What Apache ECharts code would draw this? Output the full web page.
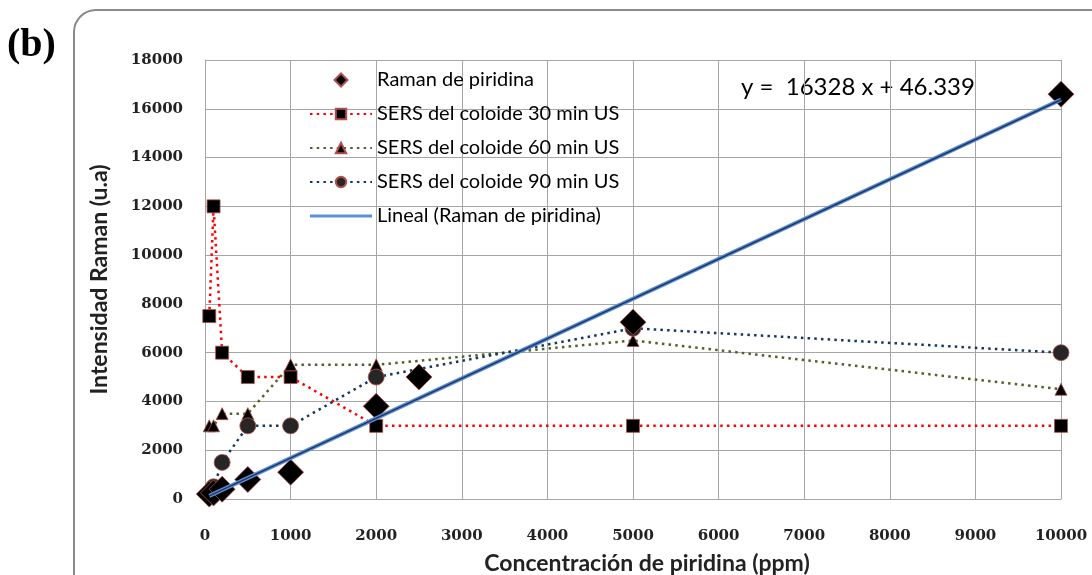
<!DOCTYPE html>
<html>
<head>
<meta charset="utf-8">
<script src="https://cdn.jsdelivr.net/npm/echarts@6/dist/echarts.min.js"></script>
<style>
  html, body { margin: 0; padding: 0; background: #fff; }
  #chart { width: 1092px; height: 575px; }
</style>
</head>
<body>
<div id="chart"></div>
<script>
// concentrations (ppm) and intensities
const ramanX = [50, 100, 200, 500, 1000, 2000, 2500, 5000, 10000];
const ramanY = [200, 250, 400, 800, 1100, 3800, 5000, 7250, 16600];

const sersX = [50, 100, 200, 500, 1000, 2000, 5000, 10000];
const sers30 = [7500, 12000, 6000, 5000, 5000, 3000, 3000, 3000];
const sers60 = [3000, 3000, 3500, 3500, 5500, 5500, 6500, 4500];
const sers90 = [200, 500, 1500, 3000, 3000, 5000, 7000, 6000];

// ends of the linear trend line (Excel "Lineal")
const trendX = [50, 10000];
const trendY = [128, 16374];

const seriesNames = [
  'Raman de piridina',
  'SERS del coloide 30 min US',
  'SERS del coloide 60 min US',
  'SERS del coloide 90 min US',
  'Lineal (Raman de piridina)'
];

const pairs = (xs, ys) => xs.map((x, i) => [x, ys[i]]);

const chart = echarts.init(document.getElementById('chart'));

const tickFont = {
  fontFamily: 'DejaVu Serif',
  fontWeight: 'bold',
  fontSize: 15,
  color: '#222',
  formatter: v => String(v)
};
const titleFont = {
  fontFamily: 'Lato',
  fontWeight: 'bold',
  fontSize: 23,
  color: '#222'
};
const gridColor = '#a6a6a6';
const markerBorder = {borderColor: '#b0504d', borderWidth: 0.8, opacity: 1};

const option = {
  backgroundColor: '#fff',
  animation: false,
  grid: {left: 205, right: 31, top: 60, bottom: 76, outerBoundsMode: 'none'},
  graphic: [
    {
      type: 'rect',
      shape: {x: 74, y: 10, width: 1100, height: 620, r: 22},
      style: {fill: 'none', stroke: '#8a8a8a', lineWidth: 2},
      z: -10
    },
    {
      type: 'text',
      left: 7,
      top: 26,
      style: {
        text: '(b)',
        font: 'bold 40px "Liberation Serif"',
        fill: '#000'
      }
    },
    {
      type: 'text',
      left: 741,
      top: 75,
      style: {
        text: 'y =  16328 x + 46.339',
        font: '24px Lato',
        fill: '#000'
      }
    }
  ],
  legend: {
    orient: 'vertical',
    left: 304,
    top: 64,
    itemWidth: 62,
    itemHeight: 13,
    itemGap: 12,
    symbolKeepAspect: true,
    textStyle: {
      fontFamily: 'Lato',
      fontSize: 20,
      color: '#000',
      lineHeight: 22
    },
    data: [
      {name: seriesNames[0], icon: 'path://M5,0 L10,5 L5,10 L0,5 Z'},
      seriesNames[1],
      seriesNames[2],
      seriesNames[3],
      {name: seriesNames[4], icon: 'path://M0,0 L62,0 L62,3 L0,3 Z'}
    ]
  },
  xAxis: {
    type: 'value',
    min: 0,
    max: 10000,
    interval: 1000,
    name: 'Concentración de piridina (ppm)',
    nameLocation: 'middle',
    nameGap: 53,
    nameTextStyle: Object.assign({padding: [0, 0, 0, 28]}, titleFont),
    axisLine: {lineStyle: {color: gridColor}},
    axisTick: {show: false},
    axisLabel: Object.assign({margin: 30}, tickFont),
    splitLine: {lineStyle: {color: gridColor, width: 1}}
  },
  yAxis: {
    type: 'value',
    min: 0,
    max: 18000,
    interval: 2000,
    name: 'Intensidad Raman (u.a)',
    nameLocation: 'middle',
    nameGap: 94,
    nameTextStyle: titleFont,
    axisLine: {show: true, lineStyle: {color: gridColor}},
    axisTick: {show: false},
    axisLabel: Object.assign({margin: 22}, tickFont),
    splitLine: {lineStyle: {color: gridColor, width: 1}}
  },
  series: [
    {
      name: seriesNames[0],
      type: 'scatter',
      symbol: 'diamond',
      symbolSize: 26,
      data: pairs(ramanX, ramanY),
      itemStyle: Object.assign({color: '#000'}, markerBorder),
      z: 3
    },
    {
      name: seriesNames[1],
      type: 'line',
      symbol: 'rect',
      symbolSize: 13,
      data: pairs(sersX, sers30),
      lineStyle: {color: '#ff0000', width: 2.5, type: [2.5, 4.2]},
      itemStyle: Object.assign({color: '#000'}, markerBorder),
      z: 2
    },
    {
      name: seriesNames[2],
      type: 'line',
      symbol: 'triangle',
      symbolSize: 12,
      data: pairs(sersX, sers60),
      lineStyle: {color: '#4f6228', width: 2.5, type: [2.5, 4.2]},
      itemStyle: Object.assign({color: '#000'}, markerBorder),
      z: 2
    },
    {
      name: seriesNames[3],
      type: 'line',
      symbol: 'circle',
      symbolSize: 16,
      data: pairs(sersX, sers90),
      lineStyle: {color: '#17375e', width: 2.5, type: [2.5, 4.2]},
      itemStyle: Object.assign({color: '#262626'}, markerBorder),
      z: 2
    },
    {
      name: seriesNames[4],
      type: 'line',
      showSymbol: false,
      symbol: 'none',
      data: pairs(trendX, trendY),
      lineStyle: {color: '#5b8fd6', width: 4},
      itemStyle: {color: '#5b8fd6'},
      z: 5
    },
    {
      // dark core of the trend line
      name: 'trend-core',
      type: 'line',
      symbol: 'none',
      data: pairs(trendX, trendY),
      lineStyle: {color: '#1f3864', width: 1.6},
      z: 6,
      silent: true
    }
  ]
};

chart.setOption(option);
</script>
</body>
</html>
